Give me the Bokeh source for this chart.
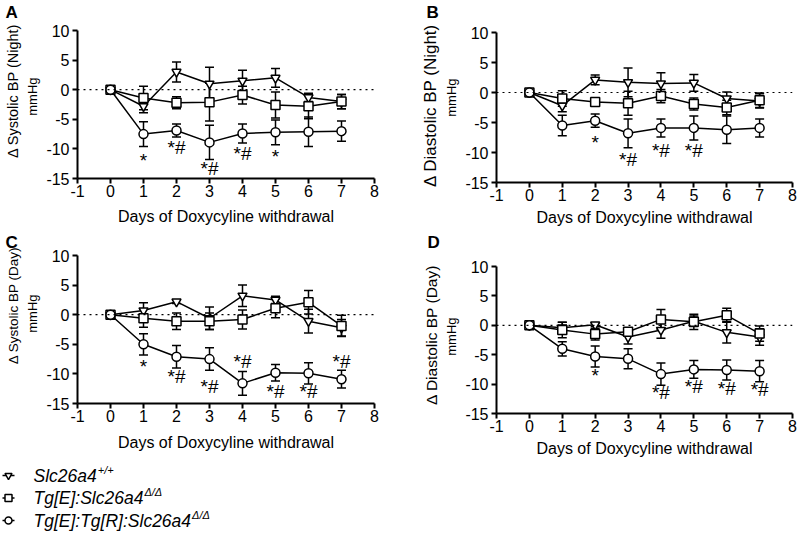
from bokeh.plotting import figure
from bokeh.models import (ColumnDataSource, Whisker, TeeHead, Span, Range1d,
                          FixedTicker, Title)
from bokeh.layouts import column, row
from bokeh.core.properties import value
from bokeh.embed import file_html
from bokeh.resources import INLINE

FONT = "Liberation Sans"

days = [0, 1, 2, 3, 4, 5, 6, 7]
series_names = ["Slc26a4", "Tg[E]:Slc26a4", "Tg[E]:Tg[R]:Slc26a4"]
series_sup = ["+/+", "\u0394/\u0394", "\u0394/\u0394"]
series_markers = ["inverted_triangle", "square", "circle"]

# Panel A: systolic night
a_wt = [0, -2.8, 3.0, 1.0, 1.5, 2.0, -1.3, -2.0]
a_wt_sem = [0, 1.1, 1.7, 2.8, 1.8, 1.6, 0.7, 1.2]
a_e = [0, -1.4, -2.2, -2.1, -0.9, -2.6, -2.8, -2.0]
a_e_sem = [0, 2.0, 1.0, 3.2, 1.5, 2.2, 2.1, 1.2]
a_er = [0, -7.5, -6.9, -8.9, -7.4, -7.2, -7.1, -7.0]
a_er_sem = [0, 2.1, 1.1, 2.9, 1.6, 2.1, 2.5, 1.7]
a_ann_x = [1, 2, 3, 4, 5]
a_ann_y = [-12.0, -9.7, -13.3, -10.7, -11.2]
a_ann_t = ["*", "*#", "*#", "*#", "*"]

# Panel B: diastolic night
b_wt = [0, -2.2, 2.1, 1.7, 1.5, 1.6, -1.0, -1.4]
b_wt_sem = [0, 1.0, 0.8, 2.4, 1.8, 1.4, 1.1, 1.2]
b_e = [0, -1.0, -1.6, -1.8, -0.6, -1.9, -2.5, -1.3]
b_e_sem = [0, 1.3, 0.3, 2.0, 1.1, 1.0, 1.2, 1.2]
b_er = [0, -5.5, -4.7, -6.8, -5.9, -5.9, -6.2, -5.9]
b_er_sem = [0, 1.7, 1.1, 2.4, 1.5, 2.0, 2.3, 1.5]
b_ann_x = [2, 3, 4, 5]
b_ann_y = [-8.4, -11.1, -9.7, -9.7]
b_ann_t = ["*", "*#", "*#", "*#"]

# Panel C: systolic day
c_wt = [0, 0.7, 2.2, -0.6, 3.2, 2.5, -1.1, -2.2]
c_wt_sem = [0, 1.3, 0.3, 1.9, 1.8, 0.6, 2.0, 1.4]
c_e = [0, -0.6, -1.1, -1.1, -0.8, 1.1, 2.1, -1.9]
c_e_sem = [0, 1.5, 1.4, 1.4, 1.6, 1.6, 2.0, 1.8]
c_er = [0, -5.0, -7.1, -7.5, -11.6, -9.8, -9.9, -10.9]
c_er_sem = [0, 1.8, 1.9, 1.9, 2.0, 1.4, 1.8, 1.5]
c_ann_x = [1, 2, 3, 4, 5, 6, 7]
c_ann_y = [-8.7, -10.5, -12.2, -7.9, -12.9, -12.9, -7.9]
c_ann_t = ["*", "*#", "*#", "*#", "*#", "*#", "*#"]

# Panel D: diastolic day
d_wt = [0, -0.4, 0.1, -2.0, -0.8, 0.7, -1.2, -2.0]
d_wt_sem = [0, 0.9, 0.3, 1.2, 1.4, 0.9, 1.8, 1.4]
d_e = [0, -0.8, -1.5, -1.1, 1.0, 0.6, 1.7, -1.4]
d_e_sem = [0, 1.3, 1.0, 0.6, 1.7, 1.3, 1.2, 1.3]
d_er = [0, -4.0, -5.3, -5.7, -8.3, -7.5, -7.6, -7.8]
d_er_sem = [0, 1.2, 1.8, 1.7, 1.9, 1.5, 1.7, 1.8]
d_ann_x = [2, 4, 5, 6, 7]
d_ann_y = [-8.6, -11.5, -10.4, -10.8, -10.9]
d_ann_t = ["*", "*#", "*#", "*#", "*#"]

x_ticks = [-1, 0, 1, 2, 3, 4, 5, 6, 7, 8]
y_ticks = [-15, -10, -5, 0, 5, 10]
x_label = "Days of Doxycyline withdrawal"
y_lab1 = ["\u0394 Systolic BP (Night)", "\u0394 Diastolic BP (Night)",
          "\u0394 Systolic BP (Day)", "\u0394 Diastolic BP (Day)"]
y_lab2 = "mmHg"


def hyphen(v):
    return str(v).replace("\u2212", "-")


def panel(letter, lab1, lab1_size, lab1_off, lab2_off, series, ann, w, h,
          bl, br, bt, bb, letter_off, letter_gap, xlab_standoff):
    p = figure(width=w, height=h, output_backend="svg", toolbar_location=None,
               x_range=Range1d(-1, 8), y_range=Range1d(y_ticks[0], y_ticks[-1]),
               min_border_left=bl, min_border_right=br, min_border_top=bt,
               min_border_bottom=bb, outline_line_color=None,
               background_fill_color="white", border_fill_color="white",
               title=letter)
    p.title.align = "left"
    p.title.offset = letter_off
    p.title.standoff = 0
    p.title.vertical_align = "bottom"
    p.title.text_font = FONT
    p.title.text_font_size = "17px"
    p.title.text_font_style = "bold"
    p.title.text_color = "black"
    # invisible spacer between the panel letter and the plot frame
    p.add_layout(Title(text=" ", standoff=letter_gap, text_font_size="1px",
                       text_color="white"), "above")
    p.grid.visible = False
    for ax in (p.xaxis[0], p.yaxis[0]):
        ax.axis_line_width = 2
        ax.axis_line_color = "black"
        ax.major_tick_line_width = 2
        ax.major_tick_line_color = "black"
        ax.major_tick_out = 5
        ax.major_tick_in = 0
        ax.minor_tick_line_color = None
        ax.major_label_text_font = FONT
        ax.major_label_text_font_size = "16px"
        ax.major_label_text_color = "black"
        ax.axis_label_text_font = FONT
        ax.axis_label_text_font_style = "normal"
        ax.axis_label_text_color = "black"
    p.xaxis[0].ticker = FixedTicker(ticks=x_ticks)
    p.yaxis[0].ticker = FixedTicker(ticks=y_ticks)
    p.xaxis[0].major_label_overrides = {t: hyphen(t) for t in x_ticks}
    p.yaxis[0].major_label_overrides = {t: hyphen(t) for t in y_ticks}
    p.xaxis[0].major_label_standoff = 1
    p.xaxis[0].axis_label = x_label
    p.xaxis[0].axis_label_text_font_size = "16px"
    p.xaxis[0].axis_label_standoff = xlab_standoff
    p.yaxis[0].major_label_standoff = 3

    p.add_layout(Title(text=y_lab2, align="right", offset=lab2_off,
                       vertical_align="middle", standoff=5, text_font=FONT,
                       text_font_size="13px", text_font_style="normal",
                       text_color="black"), "left")
    p.add_layout(Title(text=lab1, align="right", offset=lab1_off,
                       vertical_align="middle", standoff=0, text_font=FONT,
                       text_font_size=lab1_size, text_font_style="normal",
                       text_color="black"), "left")

    p.add_layout(Span(location=0, dimension="width", line_color="black",
                      line_dash="dotted", line_width=1.2))

    for (vals, sem), mk in zip(series, series_markers):
        src = ColumnDataSource(dict(
            x=days, y=vals,
            upper=[v + s for v, s in zip(vals, sem)],
            lower=[v - s for v, s in zip(vals, sem)]))
        p.line("x", "y", source=src, line_color="black", line_width=1.5)
        p.add_layout(Whisker(source=src, base="x", upper="upper", lower="lower",
                             dimension="height", line_color="black", line_width=1.5,
                             upper_head=TeeHead(size=9, line_color="black", line_width=1.5),
                             lower_head=TeeHead(size=9, line_color="black", line_width=1.5)))
        p.scatter("x", "y", source=src, marker=mk, size=9, fill_color="white",
                  line_color="black", line_width=1.5)

    ax_, ay_, at_ = ann
    p.text(x=ax_, y=ay_, text=at_, text_font=value(FONT), text_font_size="19px",
           text_align="center", text_baseline="middle", text_color="black")
    return p


# frames: A 77-374 x 29-178, B 496-792 x 29-182, C 77-374 x 254-403, D 496-792 x 264-413
pA = panel("A", y_lab1[0], "14.5px", -7, 47,
           [(a_wt, a_wt_sem), (a_e, a_e_sem), (a_er, a_er_sem)],
           (a_ann_x, a_ann_y, a_ann_t), 400, 230, 77, 26, 29, 52, -72, 5.5, 8)
pB = panel("B", y_lab1[1], "17px", -9, 46,
           [(b_wt, b_wt_sem), (b_e, b_e_sem), (b_er, b_er_sem)],
           (b_ann_x, b_ann_y, b_ann_t), 400, 230, 96, 8, 29, 48, -70, 7.5, 5)
pC = panel("C", y_lab1[2], "13.5px", -9, 39,
           [(c_wt, c_wt_sem), (c_e, c_e_sem), (c_er, c_er_sem)],
           (c_ann_x, c_ann_y, c_ann_t), 400, 231, 77, 26, 24, 58, -72, 0.5, 9)
pD = panel("D", y_lab1[3], "15.5px", -2, 51,
           [(d_wt, d_wt_sem), (d_e, d_e_sem), (d_er, d_er_sem)],
           (d_ann_x, d_ann_y, d_ann_t), 400, 231, 96, 8, 34, 48, -69, 11.5, 5)

# Legend panel
leg = figure(width=800, height=85, output_backend="svg", toolbar_location=None,
             x_range=Range1d(0, 800), y_range=Range1d(85, 0),
             min_border=0, outline_line_color=None)
leg.axis.visible = False
leg.grid.visible = False

# approximate Arial/Liberation Sans advance widths (em units)
W = {"S": .667, "l": .222, "c": .5, "2": .556, "6": .556, "a": .556, "4": .556,
     "T": .611, "g": .556, "[": .278, "E": .667, "]": .278, ":": .278, "R": .722}


def text_w(s, size):
    return sum(W.get(ch, .556) for ch in s) * size


leg_font = 17.5
leg_y = [14, 36.5, 59]
line_x0, line_x1, mark_x, text_x = 2, 14, 8, 33
for i, (nm, sup, mk) in enumerate(zip(series_names, series_sup, series_markers)):
    y = leg_y[i]
    leg.line([line_x0, line_x1], [y, y], line_color="black", line_width=1.5)
    leg.scatter([mark_x], [y], marker=mk, size=7, fill_color="white",
                line_color="black", line_width=1.5)
    leg.text([text_x], [y], text=[nm], text_font=value(FONT),
             text_font_size=f"{leg_font}px", text_font_style="italic",
             text_baseline="middle", text_color="black")
    leg.text([text_x + text_w(nm, leg_font) + 1], [y - 6], text=[sup],
             text_font=value(FONT), text_font_size="11px", text_font_style="italic",
             text_baseline="middle", text_color="black")

layout = column(row(column(pA), column(pB)), row(column(pC), column(pD)), leg)
open("out.html", "w").write(file_html(layout, INLINE))
